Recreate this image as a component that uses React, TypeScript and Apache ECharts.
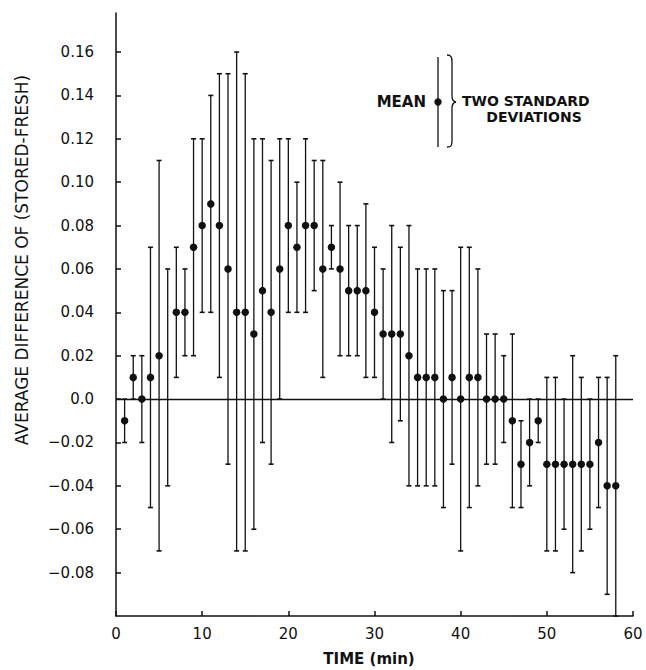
import React, { useEffect, useRef } from "react";
import * as echarts from "echarts";

// Time in minutes
const minutes = [
  1, 2, 3, 4, 5, 6, 7, 8, 9, 10, 11, 12, 13, 14, 15, 16, 17, 18, 19, 20,
  21, 22, 23, 24, 25, 26, 27, 28, 29, 30, 31, 32, 33, 34, 35, 36, 37, 38, 39, 40,
  41, 42, 43, 44, 45, 46, 47, 48, 49, 50, 51, 52, 53, 54, 55, 56, 57, 58,
];

// Mean of (stored - fresh); null where the print shows no dot
const means: (number | null)[] = [
  -0.01, 0.01, 0.0, 0.01, 0.02, null, 0.04, 0.04, 0.07, 0.08,
  0.09, 0.08, 0.06, 0.04, 0.04, 0.03, 0.05, 0.04, 0.06, 0.08,
  0.07, 0.08, 0.08, 0.06, 0.07, 0.06, 0.05, 0.05, 0.05, 0.04,
  0.03, 0.03, 0.03, 0.02, 0.01, 0.01, 0.01, 0.0, 0.01, 0.0,
  0.01, 0.01, 0.0, 0.0, 0.0, -0.01, -0.03, -0.02, -0.01, -0.03,
  -0.03, -0.03, -0.03, -0.03, -0.03, -0.02, -0.04, -0.04,
];

// Upper end of the two-standard-deviation bar
const upper = [
  0.0, 0.02, 0.02, 0.07, 0.11, 0.06, 0.07, 0.06, 0.12, 0.12,
  0.14, 0.15, 0.15, 0.16, 0.15, 0.12, 0.12, 0.11, 0.12, 0.12,
  0.10, 0.12, 0.11, 0.11, 0.08, 0.10, 0.08, 0.08, 0.09, 0.07,
  0.06, 0.08, 0.07, 0.08, 0.06, 0.06, 0.06, 0.05, 0.05, 0.07,
  0.07, 0.06, 0.03, 0.03, 0.02, 0.03, -0.01, 0.0, 0.0, 0.01,
  0.01, 0.0, 0.02, 0.01, 0.0, 0.01, 0.01, 0.02,
];

// Lower end of the two-standard-deviation bar
const lower = [
  -0.02, 0.0, -0.02, -0.05, -0.07, -0.04, 0.01, 0.02, 0.02, 0.04,
  0.04, 0.01, -0.03, -0.07, -0.07, -0.06, -0.02, -0.03, 0.0, 0.04,
  0.04, 0.04, 0.05, 0.01, 0.06, 0.02, 0.02, 0.02, 0.01, 0.01,
  0.0, -0.02, -0.01, -0.04, -0.04, -0.04, -0.04, -0.05, -0.03, -0.07,
  -0.05, -0.04, -0.03, -0.03, -0.02, -0.05, -0.05, -0.04, -0.02, -0.07,
  -0.07, -0.06, -0.08, -0.07, -0.06, -0.05, -0.09, -0.10,
];

const yTickValues = [-0.08, -0.06, -0.04, -0.02, 0, 0.02, 0.04, 0.06, 0.08, 0.1, 0.12, 0.14, 0.16];
const xTickValues = [0, 10, 20, 30, 40, 50, 60];

const INK = "#111";
const FONT = "DejaVu Sans";

const bracePath =
  "M447,55 C451,55 452,57 452,62 L452,96 C452,100 453,101.5 456,102 C453,102.5 452,104 452,108 L452,141 C452,146 451,147 447,147";

export default function App() {
  const ref = useRef<HTMLDivElement>(null);

  useEffect(() => {
    if (!ref.current) return;
    try {
      echarts.graphic.registerShape("brace", echarts.graphic.extendPath(bracePath, {}));
    } catch (e) {
      /* already registered */
    }
    const chart = echarts.init(ref.current, null, { renderer: "svg" });

    const barData = minutes.map((m, i) => [m, lower[i], upper[i]]);
    const meanData = minutes
      .map((m, i) => [m, means[i]])
      .filter((d) => d[1] !== null);

    const option: any = {
      animation: false,
      backgroundColor: "#fff",
      grid: { left: 116, right: 13, top: 13, bottom: 54, containLabel: false },
      xAxis: {
        type: "value",
        min: 0,
        max: 60,
        interval: 10,
        axisLine: { show: true, onZero: false, lineStyle: { color: INK, width: 1.5 } },
        axisTick: { show: true, inside: true, length: 5, lineStyle: { color: INK, width: 1.5 } },
        axisLabel: {
          color: INK,
          fontFamily: FONT,
          fontSize: 15,
          margin: 10,
          customValues: xTickValues,
        },
        splitLine: { show: false },
      },
      yAxis: {
        type: "value",
        min: -0.1,
        max: 0.178,
        axisLine: { show: true, onZero: false, lineStyle: { color: INK, width: 1.5 } },
        axisTick: {
          show: true,
          inside: true,
          length: 5,
          lineStyle: { color: INK, width: 1.5 },
          customValues: yTickValues,
        },
        axisLabel: {
          color: INK,
          fontFamily: FONT,
          fontSize: 15,
          margin: 22,
          customValues: yTickValues,
          formatter: (v: number) => {
            if (Math.abs(v) < 1e-9) return "0.0";
            const s = Math.abs(v).toFixed(2);
            return v < 0 ? "\u2212" + s : s;
          },
        },
        splitLine: { show: false },
      },
      series: [
        {
          type: "custom",
          data: barData,
          encode: { x: 0, y: [1, 2] },
          renderItem: (params: any, api: any) => {
            const x = api.value(0);
            const lo = api.coord([x, api.value(1)]);
            const hi = api.coord([x, api.value(2)]);
            const cap = 2.5;
            const style = { stroke: INK, lineWidth: 1.3 };
            return {
              type: "group",
              children: [
                { type: "line", shape: { x1: hi[0], y1: hi[1], x2: lo[0], y2: lo[1] }, style },
                { type: "line", shape: { x1: hi[0] - cap, y1: hi[1], x2: hi[0] + cap, y2: hi[1] }, style: { stroke: INK, lineWidth: 1.6 } },
                { type: "line", shape: { x1: lo[0] - cap, y1: lo[1], x2: lo[0] + cap, y2: lo[1] }, style: { stroke: INK, lineWidth: 1.6 } },
              ],
            };
          },
          z: 2,
        },
        {
          type: "scatter",
          data: meanData,
          symbol: "circle",
          symbolSize: 7.5,
          itemStyle: { color: INK, opacity: 1 },
          z: 3,
          markLine: {
            silent: true,
            symbol: "none",
            label: { show: false },
            lineStyle: { color: INK, type: "solid", width: 1.3, opacity: 1 },
            data: [{ yAxis: 0 }],
          },
        },
      ],
      graphic: [
        {
          type: "text",
          x: 22,
          y: 260,
          rotation: Math.PI / 2,
          style: {
            text: "AVERAGE DIFFERENCE OF (STORED-FRESH)",
            fill: INK,
            font: `17px "${FONT}"`,
            align: "center",
            verticalAlign: "middle",
          },
        },
        {
          type: "text",
          x: 369,
          y: 659,
          style: {
            text: "TIME (min)",
            fill: INK,
            font: `bold 15px "${FONT}"`,
            align: "center",
            verticalAlign: "middle",
          },
        },
        {
          type: "text",
          x: 426,
          y: 102,
          style: {
            text: "MEAN",
            fill: INK,
            font: `bold 15px "${FONT}"`,
            align: "right",
            verticalAlign: "middle",
          },
        },
        {
          type: "line",
          shape: { x1: 438, y1: 57, x2: 438, y2: 147 },
          style: { stroke: INK, lineWidth: 1.3 },
        },
        {
          type: "circle",
          shape: { cx: 438, cy: 102, r: 3.7 },
          style: { fill: INK },
        },
        {
          type: "brace",
          x: 0,
          y: 0,
          scaleX: 1,
          scaleY: 1,
          style: { stroke: INK, fill: "none", lineWidth: 1.3 },
        },
        {
          type: "text",
          x: 462,
          y: 101,
          style: {
            text: "TWO STANDARD",
            fill: INK,
            font: `bold 14px "${FONT}"`,
            lineHeight: 14,
            align: "left",
            verticalAlign: "middle",
          },
        },
        {
          type: "text",
          x: 534,
          y: 117,
          style: {
            text: "DEVIATIONS",
            fill: INK,
            font: `bold 14px "${FONT}"`,
            lineHeight: 14,
            align: "center",
            verticalAlign: "middle",
          },
        },
      ],
    };

    chart.setOption(option);
    return () => chart.dispose();
  }, []);

  return (
    <div
      ref={ref}
      style={{ position: "fixed", left: 0, top: 0, width: 646, height: 670, background: "#fff" }}
    />
  );
}
